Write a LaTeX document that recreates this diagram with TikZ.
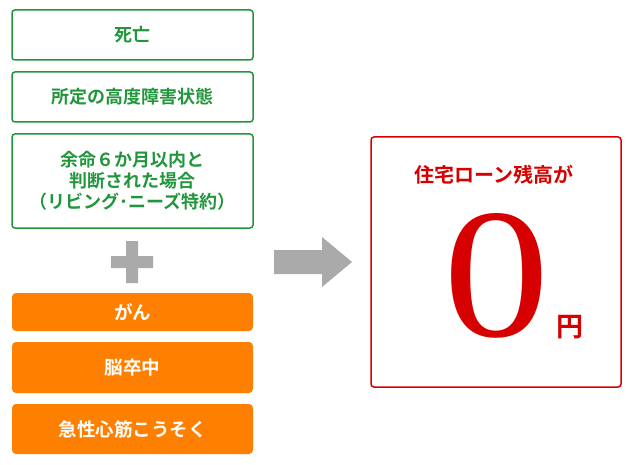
\documentclass[tikz,border=0pt]{standalone}
\usepackage{fontspec}
\setmainfont{Noto Sans CJK JP}[BoldFont={* Bold}]
\newfontfamily\zerofont{Liberation Serif}
\definecolor{boxgreen}{RGB}{34,150,60}
\definecolor{boxorange}{RGB}{255,128,0}
\definecolor{boxred}{RGB}{215,0,0}
\definecolor{plusgray}{RGB}{170,170,170}
\begin{document}
\begin{tikzpicture}[x=1pt,y=-1pt,
    % box styles
    gbox/.style={draw=boxgreen, line width=1.5pt, rounded corners=3pt, text=boxgreen,
      font=\bfseries\fontsize{18}{21}\selectfont, align=center, minimum width=241pt, inner sep=0pt},
    obox/.style={fill=boxorange, rounded corners=4pt, text=white,
      font=\bfseries\fontsize{18.5}{21}\selectfont, minimum width=241pt, inner sep=0pt},
    ]
\useasboundingbox (0,0) rectangle (634,465);
% left column
\node[gbox, minimum height=50pt] (death) at (132.5,35) {死亡};
\node[gbox, minimum height=50pt] (disab) at (132.5,97) {所定の高度障害状態};
\node[gbox, minimum height=94pt] (living) at (132.5,181) {余命６か月以内と\\判断された場合\\（リビング･ニーズ特約）};
\fill[plusgray] (111,256) rectangle (153,268) (126,241) rectangle (138,283);
\node[obox, minimum height=38pt] (cancer) at (132.5,312) {がん};
\node[obox, minimum height=51pt] (stroke) at (132.5,367.5) {脳卒中};
\node[obox, minimum height=50pt] (heart) at (132.5,429) {急性心筋こうそく};
% arrow
\fill[plusgray] (274,250) -- (322,250) -- (322,237) -- (352,262) -- (322,287) -- (322,274) -- (274,274) -- cycle;
% result box
\node[draw=boxred, line width=1.5pt, rounded corners=3pt, minimum width=250pt, minimum height=250pt] (result) at (496,262) {};
\node[text=boxred, font=\bfseries\fontsize{20}{22}\selectfont] (title) at (494,175) {住宅ローン残高が};
\node[text=boxred, font=\zerofont\fontsize{185}{185}\selectfont, inner sep=0pt, xscale=1.15] (zero) at (497,276) {0};
\node[text=boxred, font=\bfseries\fontsize{27}{28}\selectfont] (yen) at (570,327) {円};
\end{tikzpicture}
\end{document}
